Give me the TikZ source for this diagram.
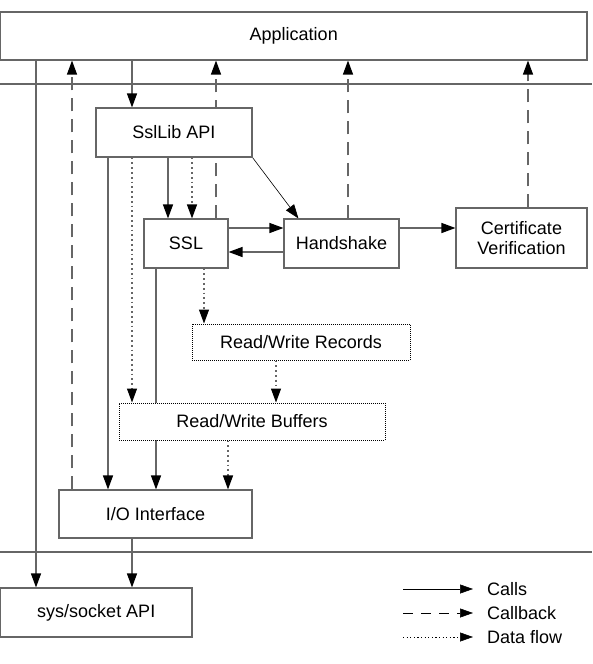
\documentclass[tikz,border=0pt]{standalone}
\usepackage{fontspec}
\setmainfont{Liberation Sans}
\usetikzlibrary{arrows.meta,backgrounds}
\tikzset{
    boite/.style={draw=black!60,line width=1.1pt,fill=white,inner sep=0pt,align=center},
    boitept/.style={boite,draw=black,line width=1pt,dash pattern=on 1pt off 1pt},
    appel/.style={draw=black!60,line width=1.2pt,-{Triangle[length=14pt,width=10pt,black]}},
    retour/.style={appel,dash pattern=on 13pt off 8pt},
    donnees/.style={appel,dash pattern=on 1.8pt off 3pt},
    sep/.style={draw=black!60,line width=1.1pt},
    leg/.style={black,line width=0.6pt,-{Triangle[length=13pt,width=9pt]}}
}
\begin{document}
\begin{tikzpicture}[x=1pt,y=-1pt,font=\fontsize{18}{19.5}\selectfont]
    \useasboundingbox (0,0) rectangle (592,664);

    % Boites
    \node[boite,minimum width=586.5pt,minimum height=48pt] (app) at (293.75,36) {Application};
    \node[boite,minimum width=156pt,minimum height=49pt] (ssllib) at (174,132.5) {SslLib API};
    \node[boite,minimum width=84pt,minimum height=49pt] (ssl) at (186,243.5) {SSL};
    \node[boite,minimum width=115pt,minimum height=49pt] (hand) at (341.5,243.5) {Handshake};
    \node[boite,minimum width=131pt,minimum height=60pt] (cert) at (521.5,238) {Certificate\\Verification};
    \node[boitept,minimum width=218pt,minimum height=36pt] (records) at (301,342) {Read/Write Records};
    \node[boitept,minimum width=266pt,minimum height=37pt] (buffers) at (252,421.5) {Read/Write Buffers};
    \node[boite,minimum width=193pt,minimum height=48pt] (io) at (155.5,514) {I/O Interface};
    \node[boite,minimum width=191.5pt,minimum height=49pt] (sock) at (96.25,612.5) {sys/socket API};

    \begin{pgfonlayer}{background}
    % Separations
    \draw[sep] (0,84) -- (592,84);
    \draw[sep] (0,552) -- (592,552);

    % Appels depuis l'application
    \draw[appel] (app.south -| 36,0) -- (sock.north -| 36,0);
    \draw[appel] (app.south -| 132,0) -- (ssllib.north -| 132,0);

    % Callbacks vers l'application
    \draw[retour] (io.north -| 72,0) -- (app.south -| 72,0);
    \draw[retour] (ssl.north -| 216,0) -- (app.south -| 216,0);
    \draw[retour] (hand.north -| 348,0) -- (app.south -| 348,0);
    \draw[retour] (cert.north -| 528,0) -- (app.south -| 528,0);

    % Depuis SslLib API
    \draw[appel] (ssllib.south -| 108,0) -- (io.north -| 108,0);
    \draw[donnees] (ssllib.south -| 132,0) -- (buffers.north -| 132,0);
    \draw[appel] (ssllib.south -| 168,0) -- (ssl.north -| 168,0);
    \draw[donnees] (ssllib.south -| 192,0) -- (ssl.north -| 192,0);
    \draw[appel,black,line width=0.6pt] (ssllib.south east) -- ([xshift=15pt]hand.north west);

    % SSL, Handshake, Certificate
    \draw[appel] (ssl.east |- 0,228) -- (hand.west |- 0,228);
    \draw[appel] (hand.west |- 0,252) -- (ssl.east |- 0,252);
    \draw[appel] (hand.east |- 0,228) -- (cert.west |- 0,228);

    % Vers les buffers et l'interface I/O
    \draw[appel] (ssl.south -| 156,0) -- (io.north -| 156,0);
    \draw[donnees] (ssl.south -| 204,0) -- (records.north -| 204,0);
    \draw[donnees] (records.south -| 276,0) -- (buffers.north -| 276,0);
    \draw[donnees] (buffers.south -| 228,0) -- (io.north -| 228,0);
    \draw[appel] (io.south -| 132,0) -- (sock.north -| 132,0);
    \end{pgfonlayer}

    % Legende
    \node[anchor=west,inner sep=2pt] (lcalls) at (485,589) {Calls};
    \node[anchor=west,inner sep=2pt] (lcallback) at (485,613) {Callback};
    \node[anchor=west,inner sep=2pt] (ldata) at (485,637) {Data flow};
    \draw[leg] ([xshift=-82pt]lcalls.west) -- ([xshift=-12pt]lcalls.west);
    \draw[leg,dash pattern=on 10pt off 8pt] ([xshift=-82pt]lcallback.west) -- ([xshift=-12pt]lcallback.west);
    \draw[leg,dash pattern=on 1.2pt off 2.4pt] ([xshift=-82pt]ldata.west) -- ([xshift=-12pt]ldata.west);
\end{tikzpicture}
\end{document}
